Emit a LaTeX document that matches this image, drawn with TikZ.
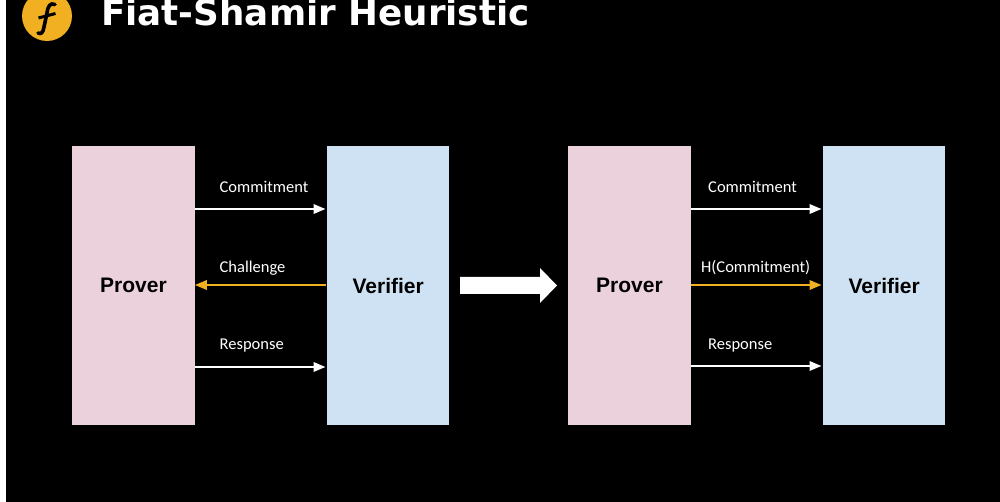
\documentclass[tikz,border=0pt]{standalone}
\usepackage{fontspec}
\setmainfont{Carlito}
\newfontfamily\titlefont{DejaVu Sans}
\newfontfamily\boxfont{Liberation Sans}
\usetikzlibrary{arrows.meta,calc}
\definecolor{pinkbox}{HTML}{EAD1DC}
\definecolor{bluebox}{HTML}{CFE2F3}
\definecolor{gold}{HTML}{F1B021}
\tikzset{
  x=1pt,y=-1pt,
  partybox/.style={minimum width=122.5pt,minimum height=279pt,inner sep=0pt,anchor=north west,text=black,font=\boxfont\fontsize{21}{24}\selectfont\bfseries},
  msg/.style={line width=2pt,shorten >=1.5pt,-{Triangle[length=12pt,width=9.5pt]}},
  msgw/.style={msg,draw=white},
  msgy/.style={msg,draw=gold},
  lbl/.style={text=white,inner sep=0pt,anchor=base west,font=\fontsize{16.5}{20}\selectfont},
}
\begin{document}
\begin{tikzpicture}
\useasboundingbox (0,0) rectangle (1000,502);
\fill[white] (0,0) rectangle (1000,502);
\fill[black] (6,0) rectangle (1000,502);
% logo
\fill[gold] (47,16) circle (25);
\draw[black,line width=3.6pt,line cap=round] (55,4.5) .. controls (50,2.5) and (48,6) .. (47,13) -- (44,27) .. controls (43,33) and (41,34.5) .. (38,33);
\draw[black,line width=3pt] (38.5,18) -- (55.5,13.5);
% title
\node[text=white,inner sep=0pt,anchor=base west,font=\titlefont\fontsize{35.7}{42}\selectfont\bfseries] (title) at (101,26) {Fiat-Shamir Heuristic};
% boxes
\node[partybox,fill=pinkbox] (p1) at (72,146) {Prover};
\node[partybox,fill=bluebox,minimum width=122pt] (v1) at (327,146) {Verifier};
\node[partybox,fill=pinkbox] (p2) at (568,146) {Prover};
\node[partybox,fill=bluebox,minimum width=122pt] (v2) at (823,146) {Verifier};
% left exchange
\coordinate (a1) at (p1.east |- 0,209); \coordinate (b1) at (v1.west |- 0,209);
\coordinate (a2) at (p1.east |- 0,285); \coordinate (b2) at (v1.west |- 0,285);
\coordinate (a3) at (p1.east |- 0,367); \coordinate (b3) at (v1.west |- 0,367);
\draw[msgw] (a1) -- (b1);
\draw[msgy,shorten >=0pt,shorten <=1.5pt] (b2) -- (a2);
\draw[msgw] (a3) -- (b3);
\node[lbl] (l1) at (219.5,192.5) {Commitment};
\node[lbl] (l2) at (219.5,272.5) {Challenge};
\node[lbl] (l3) at (219.5,349.5) {Response};
% right exchange
\coordinate (c1) at (p2.east |- 0,209); \coordinate (d1) at (v2.west |- 0,209);
\coordinate (c2) at (p2.east |- 0,285); \coordinate (d2) at (v2.west |- 0,285);
\coordinate (c3) at (p2.east |- 0,366); \coordinate (d3) at (v2.west |- 0,366);
\draw[msgw] (c1) -- (d1);
\draw[msgy] (c2) -- (d2);
\draw[msgw] (c3) -- (d3);
\node[lbl] (r1) at (708,192.5) {Commitment};
\node[lbl] (r2) at (701,272.5) {H(Commitment)};
\node[lbl] (r3) at (708,349) {Response};
% big arrow
\fill[white] (460,277) -- (540,277) -- (540,268) -- (557,285.5) -- (540,303) -- (540,294) -- (460,294) -- cycle;
\end{tikzpicture}
\end{document}
